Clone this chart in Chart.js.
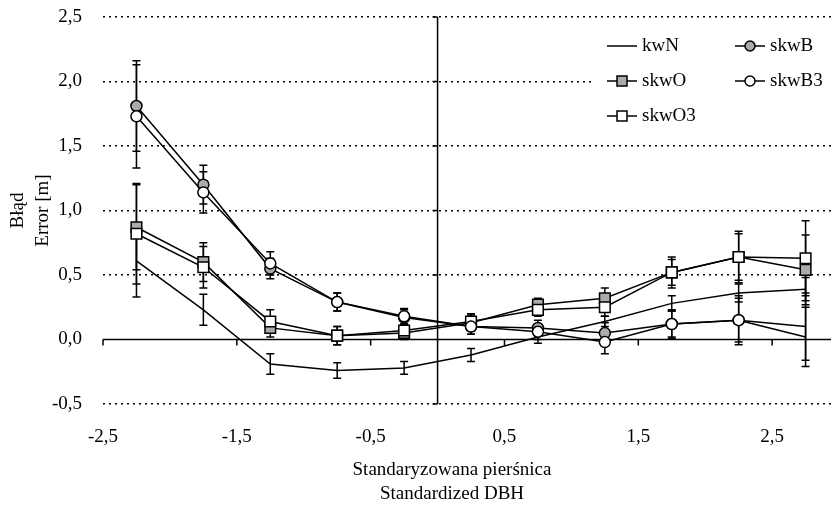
<!DOCTYPE html>
<html>
<head>
<meta charset="utf-8">
<script src="https://cdn.jsdelivr.net/npm/chart.js@4.4.1/dist/chart.umd.min.js"></script>
<style>
  html, body { margin: 0; padding: 0; background: #fff; }
  #wrap { width: 831px; height: 512px; }
</style>
</head>
<body>
<div id="wrap"><canvas id="chart"></canvas></div>
<script>
// Standardized DBH class midpoints
const dbhClasses = [-2.25, -1.75, -1.25, -0.75, -0.25, 0.25, 0.75, 1.25, 1.75, 2.25, 2.75];
const xTickValues = [-2.5, -1.5, -0.5, 0.5, 1.5, 2.5];
const yTickValues = [-0.5, 0, 0.5, 1, 1.5, 2, 2.5];

// mean error [m] per class
const kwN   = [0.61, 0.23, -0.19, -0.24, -0.22, -0.12, 0.02, 0.14, 0.28, 0.36, 0.39];
const skwB  = [1.81, 1.20, 0.55, 0.29, 0.17, 0.10, 0.09, 0.05, 0.12, 0.15, 0.10];
const skwO  = [0.87, 0.60, 0.09, 0.03, 0.05, 0.13, 0.27, 0.32, 0.52, 0.64, 0.54];
const skwB3 = [1.73, 1.14, 0.59, 0.29, 0.18, 0.10, 0.06, -0.02, 0.12, 0.15, 0.02];
const skwO3 = [0.82, 0.56, 0.14, 0.03, 0.07, 0.14, 0.23, 0.25, 0.52, 0.64, 0.63];

// error bar half-lengths
const kwNErr   = [0.28, 0.12, 0.08, 0.06, 0.05, 0.05, 0.05, 0.04, 0.06, 0.07, 0.09];
const skwBErr  = [0.35, 0.15, 0.08, 0.07, 0.06, 0.06, 0.06, 0.08, 0.11, 0.19, 0.26];
const skwOErr  = [0.33, 0.15, 0.07, 0.07, 0.05, 0.06, 0.05, 0.08, 0.12, 0.20, 0.27];
const skwB3Err = [0.40, 0.16, 0.09, 0.07, 0.06, 0.06, 0.06, 0.09, 0.10, 0.17, 0.23];
const skwO3Err = [0.39, 0.16, 0.09, 0.07, 0.05, 0.06, 0.05, 0.07, 0.10, 0.18, 0.29];

const FONT = '"Liberation Serif", "DejaVu Serif", serif';
const GREY = '#ababab';

function pts(vals) {
  return dbhClasses.map((x, i) => ({ x: x, y: vals[i] }));
}

// circles have no marker at the last class
const noLastPoint = ctx => (ctx.dataIndex === dbhClasses.length - 1 ? 0 : 5.5);

const datasets = [
  { label: 'kwN', data: pts(kwN), errors: kwNErr, pointRadius: 0, order: 3, legendMarker: null },
  { label: 'skwB', data: pts(skwB), errors: skwBErr, pointStyle: 'circle', pointRadius: noLastPoint,
    pointBackgroundColor: GREY, order: 2, legendMarker: 'circle' },
  { label: 'skwO', data: pts(skwO), errors: skwOErr, pointStyle: 'rect', pointRadius: 7.5,
    pointBackgroundColor: GREY, order: 2, legendMarker: 'rect' },
  { label: 'skwB3', data: pts(skwB3), errors: skwB3Err, pointStyle: 'circle', pointRadius: noLastPoint,
    pointBackgroundColor: '#fff', order: 1, legendMarker: 'circle' },
  { label: 'skwO3', data: pts(skwO3), errors: skwO3Err, pointStyle: 'rect', pointRadius: 7.5,
    pointBackgroundColor: '#fff', order: 1, legendMarker: 'rect' }
];
datasets.forEach(ds => {
  ds.showLine = true;
  ds.borderColor = '#000';
  ds.borderWidth = 1.5;
  ds.pointBorderColor = '#000';
  ds.pointBorderWidth = 1.5;
  ds.pointHoverRadius = ds.pointRadius;
});

const fmt = v => v.toFixed(1).replace('.', ',');

// axis lines through zero, error bars
const errorBars = {
  id: 'errorBars',
  beforeDatasetsDraw(chart) {
    const { ctx, chartArea, scales: { x, y } } = chart;
    ctx.save();
    ctx.strokeStyle = '#000';
    ctx.lineWidth = 1.5;

    // x axis at y = 0
    const y0 = y.getPixelForValue(0);
    ctx.beginPath();
    ctx.moveTo(chartArea.left, y0);
    ctx.lineTo(chartArea.right, y0);
    xTickValues.forEach(v => {
      const px = x.getPixelForValue(v);
      ctx.moveTo(px, y0);
      ctx.lineTo(px, y0 + 6);
    });
    // y axis at x = 0
    const x0 = x.getPixelForValue(0);
    ctx.moveTo(x0, chartArea.top);
    ctx.lineTo(x0, chartArea.bottom);
    yTickValues.forEach(v => {
      const py = y.getPixelForValue(v);
      ctx.moveTo(x0 - 5, py);
      ctx.lineTo(x0, py);
    });
    ctx.stroke();

    // error bars
    chart.data.datasets.forEach(ds => {
      ds.data.forEach((p, i) => {
        const e = ds.errors[i];
        const px = x.getPixelForValue(p.x);
        const top = y.getPixelForValue(p.y + e);
        const bot = y.getPixelForValue(p.y - e);
        ctx.beginPath();
        ctx.moveTo(px, top); ctx.lineTo(px, bot);
        ctx.moveTo(px - 4, top); ctx.lineTo(px + 4, top);
        ctx.moveTo(px - 4, bot); ctx.lineTo(px + 4, bot);
        ctx.stroke();
      });
    });
    ctx.restore();
  }
};

// legend inside plot (2 columns, white box over the grid) and x axis title
const extras = {
  id: 'extras',
  afterDraw(chart) {
    const ctx = chart.ctx;
    ctx.save();
    ctx.fillStyle = '#fff';
    ctx.fillRect(592, 28, chart.width - 592, 106);

    ctx.font = '19px ' + FONT;
    ctx.fillStyle = '#000';
    ctx.strokeStyle = '#000';
    ctx.lineWidth = 1.5;
    ctx.textBaseline = 'middle';

    const cols = [607, 735];
    const rows = [46, 81, 116];
    // legend order: kwN, skwB, skwO, skwB3, skwO3 (row-major)
    const order = ['kwN', 'skwB', 'skwO', 'skwB3', 'skwO3'];
    order.forEach((name, k) => {
      const ds = chart.data.datasets.find(d => d.label === name);
      const lx = cols[k % 2];
      const ly = rows[Math.floor(k / 2)];
      ctx.beginPath();
      ctx.moveTo(lx, ly);
      ctx.lineTo(lx + 30, ly);
      ctx.stroke();
      if (ds.legendMarker) {
        ctx.fillStyle = ds.pointBackgroundColor;
        ctx.beginPath();
        if (ds.legendMarker === 'rect') {
          ctx.rect(lx + 10, ly - 5, 10, 10);
        } else {
          ctx.arc(lx + 15, ly, 5, 0, Math.PI * 2);
        }
        ctx.fill();
        ctx.stroke();
        ctx.fillStyle = '#000';
      }
      ctx.textAlign = 'left';
      ctx.fillText(name, lx + 35, ly);
    });

    // x axis title
    ctx.textAlign = 'center';
    ctx.fillText('Standaryzowana pierśnica', 452, 470);
    ctx.fillText('Standardized DBH', 452, 494);
    ctx.restore();
  }
};

new Chart(document.getElementById('chart'), {
  type: 'scatter',
  data: { datasets: datasets },
  options: {
    responsive: true,
    maintainAspectRatio: false,
    animation: false,
    layout: { autoPadding: false, padding: { top: 17, right: 0, bottom: 0, left: 0 } },
    plugins: {
      legend: { display: false },
      tooltip: { enabled: false }
    },
    scales: {
      x: {
        type: 'linear',
        min: -2.5,
        max: 2.94,
        afterBuildTicks: s => { s.ticks = xTickValues.map(v => ({ value: v })); },
        afterFit: s => { s.height = 108; s.paddingLeft = 0; s.paddingRight = 0; },
        grid: { display: false, drawTicks: false },
        border: { display: false },
        ticks: {
          padding: 22,
          color: '#000',
          maxRotation: 0,
          font: { family: FONT, size: 19, lineHeight: 1.2 },
          callback: v => fmt(v)
        }
      },
      y: {
        min: -0.5,
        max: 2.5,
        afterBuildTicks: s => { s.ticks = yTickValues.map(v => ({ value: v })); },
        afterFit: s => { s.width = 103; s.paddingTop = 0; s.paddingBottom = 0; },
        grid: {
          drawTicks: false,
          lineWidth: 1.5,
          color: ctx => (ctx.tick && ctx.tick.value === 0 ? 'rgba(0,0,0,0)' : '#000')
        },
        border: { display: false, dash: [2, 4] },
        ticks: {
          padding: 21,
          color: '#000',
          font: { family: FONT, size: 19 },
          callback: v => fmt(v)
        },
        title: {
          display: true,
          text: ['Błąd', 'Error [m]'],
          color: '#000',
          font: { family: FONT, size: 19, lineHeight: 1.3 },
          padding: { top: 6, bottom: 0 }
        }
      }
    }
  },
  plugins: [errorBars, extras]
});
</script>
</body>
</html>
